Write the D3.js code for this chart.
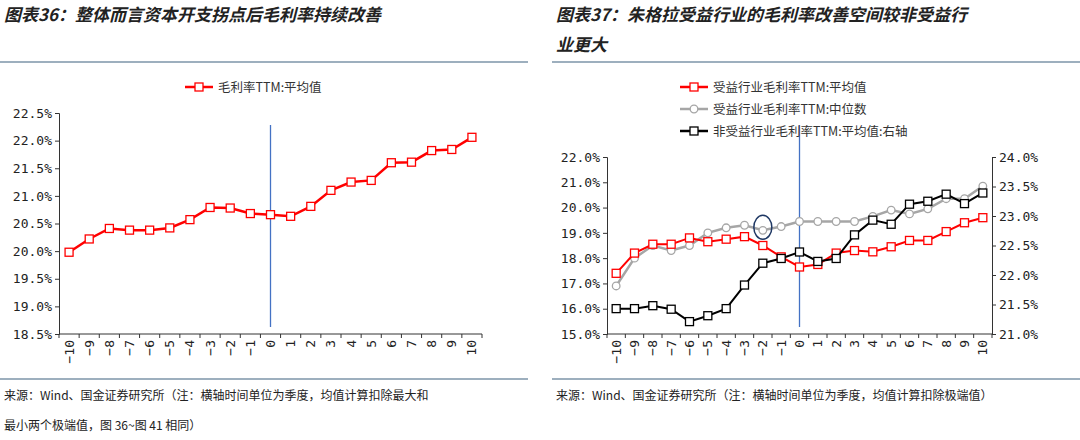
<!DOCTYPE html>
<html><head><meta charset="utf-8">
<script src="https://cdn.jsdelivr.net/npm/d3@7"></script>
<style>
body{margin:0;background:#fff;}
svg{font-family:"Noto Sans CJK SC","DejaVu Sans",sans-serif;}
.tk{font-size:13px;fill:#222;font-family:"DejaVu Sans Mono","Noto Sans CJK SC",monospace;}
</style></head><body>
<svg id="svg" width="1080" height="440"></svg>
<script>
var cats = d3.range(-10, 11);
var leftAvg = [19.98,20.22,20.41,20.38,20.38,20.42,20.57,20.79,20.78,20.68,20.66,20.63,20.81,21.10,21.25,21.28,21.60,21.61,21.82,21.84,22.06];
var benAvg = [17.4,18.2,18.55,18.55,18.8,18.65,18.75,18.85,18.5,18.05,17.65,17.75,18.2,18.3,18.25,18.45,18.7,18.7,19.05,19.4,19.6];
var benMed = [16.9,18.0,18.5,18.3,18.5,19.0,19.2,19.3,19.1,19.25,19.45,19.45,19.45,19.45,19.65,19.9,19.75,19.95,20.35,20.35,20.85];
var nonAvg = [21.43,21.43,21.48,21.42,21.21,21.31,21.43,21.83,22.2,22.28,22.39,22.23,22.28,22.68,22.93,22.86,23.2,23.25,23.37,23.21,23.39];
var leftTicks = [18.5,19,19.5,20,20.5,21,21.5,22,22.5];
var rightTicksL = [15,16,17,18,19,20,21,22];
var rightTicksR = [21,21.5,22,22.5,23,23.5,24];

var svg = d3.select("#svg");

function txt(x,y,s,size,opt){
  var t = svg.append("text").attr("x",x).attr("y",y).text(s).attr("font-size",size).attr("fill","#222");
  if(opt) t.attr("font-weight","bold").attr("font-style","italic");
  return t;
}
txt(4,21,"图表36：整体而言资本开支拐点后毛利率持续改善",17,1);
txt(556,21,"图表37：朱格拉受益行业的毛利率改善空间较非受益行",17,1);
txt(556,51,"业更大",17,1);
[[0,62,528],[552,62,1080],[0,379,528],[552,379,1080]].forEach(function(l){
  svg.append("line").attr("x1",l[0]).attr("x2",l[2]).attr("y1",l[1]).attr("y2",l[1]).attr("stroke","#7c94a8").attr("stroke-width",1.5);
});
txt(4,400,"来源：Wind、国金证券研究所（注：横轴时间单位为季度，均值计算扣除最大和",12);
txt(4,430,"最小两个极端值，图 36~图 41 相同）",12);
txt(556,400,"来源：Wind、国金证券研究所（注：横轴时间单位为季度，均值计算扣除极端值）",12);

function xAxis(x, bottom){
  var g = svg.append("g").attr("transform","translate(0,"+bottom+")");
  g.append("line").attr("x1",x.range()[0]).attr("x2",x.range()[1]).attr("stroke","#333");
  var step = x.step();
  d3.range(cats.length+1).forEach(function(i){
    var xx = x.range()[0]+i*step;
    g.append("line").attr("x1",xx).attr("x2",xx).attr("y1",0).attr("y2",4).attr("stroke","#333");
  });
  cats.forEach(function(c){
    var xx = x(c)+step/2;
    g.append("text").attr("class","tk").attr("transform","translate("+(xx+4.5)+",6) rotate(-90)")
     .attr("text-anchor","end").text(String(c).replace("-","−"));
  });
}
function yAxis(y, ticks, xpos, side){
  var ax = side=="left" ? d3.axisLeft(y) : d3.axisRight(y);
  var g = svg.append("g").attr("transform","translate("+xpos+",0)")
    .call(ax.tickValues(ticks).tickSize(4).tickFormat(function(d){return d.toFixed(1)+"%";}));
  g.selectAll("path,line").attr("stroke","#333");
  g.selectAll("text").attr("class","tk").attr("font-family",null).attr("font-size",null);
}
function series(x, y, vals, color, shape, w){
  var step = x.step();
  var line = d3.line().x(function(d,i){return x(cats[i])+step/2;}).y(function(d){return y(d);});
  svg.append("path").attr("d",line(vals)).attr("fill","none").attr("stroke",color).attr("stroke-width",w);
  vals.forEach(function(v,i){
    var cx = x(cats[i])+step/2, cy = y(v);
    if(shape=="sq") svg.append("rect").attr("x",cx-4).attr("y",cy-4).attr("width",8).attr("height",8).attr("fill","#fff").attr("stroke",color).attr("stroke-width",1.3);
    else svg.append("circle").attr("cx",cx).attr("cy",cy).attr("r",3.8).attr("fill","#fff").attr("stroke",color).attr("stroke-width",1.3);
  });
}
function legend(x, y, label, color, shape, w){
  svg.append("line").attr("x1",x).attr("x2",x+28).attr("y1",y).attr("y2",y).attr("stroke",color).attr("stroke-width",w);
  if(shape=="sq") svg.append("rect").attr("x",x+10).attr("y",y-4).attr("width",8).attr("height",8).attr("fill","#fff").attr("stroke",color).attr("stroke-width",1.3);
  else svg.append("circle").attr("cx",x+14).attr("cy",y).attr("r",3.8).attr("fill","#fff").attr("stroke",color).attr("stroke-width",1.3);
  svg.append("text").attr("x",x+33).attr("y",y+4.5).attr("font-size",12.5).attr("fill","#333").text(label);
}

// left chart
var x1 = d3.scaleBand().domain(cats).range([59,482]);
var y1 = d3.scaleLinear().domain([18.5,22.5]).range([334,113]);
yAxis(y1, leftTicks, 59, "left");
xAxis(x1, 334);
svg.append("line").attr("x1",x1(0)+x1.step()/2).attr("x2",x1(0)+x1.step()/2).attr("y1",125).attr("y2",327).attr("stroke","#4472c4").attr("stroke-width",1.3);
series(x1, y1, leftAvg, "#ff0000", "sq", 2.5);
legend(185, 87, "毛利率TTM:平均值", "#ff0000", "sq", 2.5);

// right chart
var x2 = d3.scaleBand().domain(cats).range([607,992]);
var y2 = d3.scaleLinear().domain([15,22]).range([334,157]);
var y3 = d3.scaleLinear().domain([21,24]).range([334,157]);
yAxis(y2, rightTicksL, 607, "left");
yAxis(y3, rightTicksR, 992, "right");
xAxis(x2, 334);
svg.append("line").attr("x1",x2(0)+x2.step()/2).attr("x2",x2(0)+x2.step()/2).attr("y1",125).attr("y2",327).attr("stroke","#4472c4").attr("stroke-width",1.3);
series(x2, y2, benMed, "#a6a6a6", "ci", 2.5);
series(x2, y2, benAvg, "#ff0000", "sq", 2);
series(x2, y3, nonAvg, "#000", "sq", 2);
svg.append("ellipse").attr("cx",x2(-2)+x2.step()/2).attr("cy",y2(benMed[8])-3).attr("rx",9).attr("ry",12).attr("fill","none").attr("stroke","#1f3864").attr("stroke-width",1.5);
legend(680, 87, "受益行业毛利率TTM:平均值", "#ff0000", "sq", 2.5);
legend(680, 109, "受益行业毛利率TTM:中位数", "#a6a6a6", "ci", 2.5);
legend(680, 131, "非受益行业毛利率TTM:平均值:右轴", "#000", "sq", 2.5);
</script></body></html>
